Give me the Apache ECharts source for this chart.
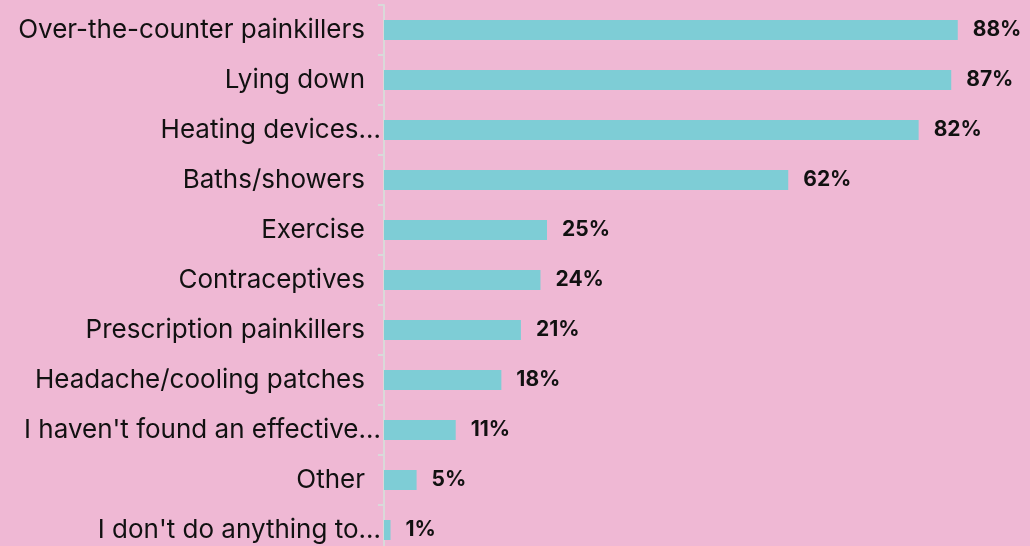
<!DOCTYPE html>
<html><head><meta charset="utf-8">
<script src="https://cdn.jsdelivr.net/npm/echarts@6/dist/echarts.min.js"></script>
<style>html,body{margin:0;padding:0;background:#EFB8D4;}#c{width:1030px;height:546px;}</style>
</head><body><div id="c"></div>
<script>
const categories = ["Over-the-counter painkillers","Lying down","Heating devices…","Baths/showers","Exercise","Contraceptives","Prescription painkillers","Headache/cooling patches","I haven't found an effective…","Other","I don't do anything to…"];
const values = [88,87,82,62,25,24,21,18,11,5,1];

const chart = echarts.init(document.getElementById('c'));
chart.setOption({
  backgroundColor: '#EFB8D4',
  animation: false,
  grid: {left: 384, top: 5, width: 652, height: 550, outerBoundsMode: 'none', containLabel: false},
  xAxis: {type: 'value', min: 0, max: 100, show: false},
  yAxis: {
    type: 'category', data: categories, inverse: true,
    axisLine: {show: true, lineStyle: {color: '#D9D9D9', width: 2}},
    axisTick: {show: true, length: 6, lineStyle: {color: '#D9D9D9', width: 2}},
    axisLabel: {
      margin: 3,
      formatter: v => v.endsWith('…') ? '{b|' + v + '}' : '{a|' + v + '}',
      rich: {
        a: {fontFamily: 'Inter', fontSize: 26, color: '#111', padding: [0, 16, 0, 0]},
        b: {fontFamily: 'Inter', fontSize: 26, color: '#111'}
      }
    }
  },
  series: [{
    type: 'bar', data: values, barWidth: 20,
    itemStyle: {color: '#7ECDD6'},
    label: {show: true, position: 'right', distance: 15, formatter: '{c}%',
      fontFamily: 'Inter', fontWeight: 'bold', fontSize: 21, color: '#111'}
  }]
});
</script></body></html>
